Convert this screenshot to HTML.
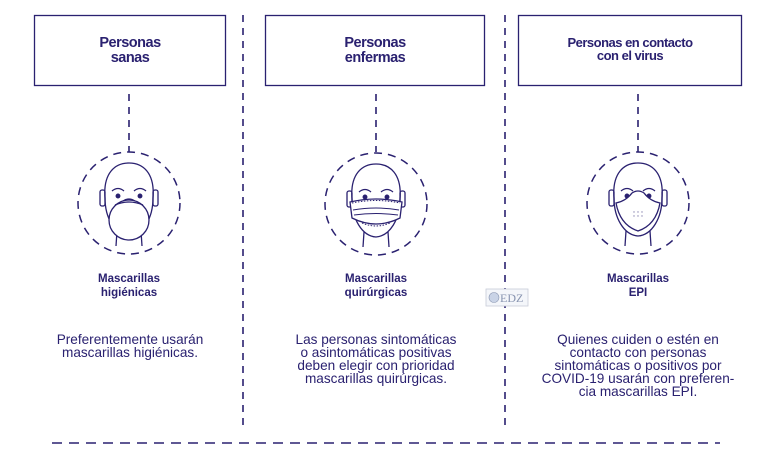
<!DOCTYPE html>
<html><head><meta charset="utf-8"><style>
html,body{margin:0;padding:0;background:#fff}
svg{display:block}
text{font-family:"Liberation Sans",sans-serif;fill:#2a2170}
.b{font-weight:bold;font-size:11.5px}
.h{font-weight:bold;font-size:14.5px;letter-spacing:-0.5px}
.d{font-size:13.6px}
</style></head><body>
<svg width="768" height="452" viewBox="0 0 768 452" xmlns="http://www.w3.org/2000/svg">
<defs>
<g id="head" fill="none" stroke="#2a2170" stroke-width="1.3">
<path d="M-24,-5 C-26,-30 -14,-40 0,-40 C14,-40 26,-30 24,-5 C24,15 14,32 0,33 C-14,32 -24,15 -24,-5 Z"/>
<rect x="-29" y="-13" width="5" height="16" rx="2"/>
<rect x="24" y="-13" width="5" height="16" rx="2"/>
<path d="M-12,28 L-13,43 M12,28 L13,43"/>
<path d="M-17,-12 Q-11,-17 -5,-12 M5,-12 Q11,-17 17,-12"/>
<circle cx="-11" cy="-7" r="1.8" fill="#2a2170"/>
<circle cx="11" cy="-7" r="1.8" fill="#2a2170"/>
</g>
</defs>
<g fill="none" stroke="#2a2170">
<rect x="34.5" y="15.5" width="191" height="70" stroke-width="1.3"/>
<rect x="265.5" y="15.5" width="219" height="70" stroke-width="1.3"/>
<rect x="518.5" y="15.5" width="223" height="70" stroke-width="1.3"/>
<path d="M243,15 V425 M505,15 V425" stroke-width="1.6" stroke-dasharray="7,6"/>
<path d="M52,443 H720" stroke-width="1.6" stroke-dasharray="10,7"/>
<path d="M129,94 V152 M376,94 V152 M638,94 V152" stroke-width="1.6" stroke-dasharray="7,6"/>
<circle cx="129" cy="203" r="51" stroke-width="1.5" stroke-dasharray="8,6"/>
<circle cx="376" cy="204" r="51" stroke-width="1.5" stroke-dasharray="8,6"/>
<circle cx="638" cy="203" r="51" stroke-width="1.5" stroke-dasharray="8,6"/>
</g>
<g transform="translate(129,203)">
<use href="#head"/>
<path d="M-6,-2 Q0,-6 6,-2" fill="none" stroke="#2a2170" stroke-width="1.3"/>
<circle cx="0" cy="17" r="20" fill="#fff" stroke="#2a2170" stroke-width="1.3"/>
<path d="M-14,2 Q0,-4 14,2" fill="none" stroke="#2a2170" stroke-width="1.3"/>
</g>
<g transform="translate(376,204)">
<use href="#head"/>
<path d="M-26,-2 Q0,-8 26,-2 L24,14 Q0,26 -24,14 Z" fill="#fff" stroke="#2a2170" stroke-width="1.3"/>
<path d="M-24,-1 Q0,-6 24,-1" fill="none" stroke="#2a2170" stroke-width="1" stroke-dasharray="1.5,1.5"/>
<path d="M-23,6 Q0,2 23,6 M-22,11 Q0,8 22,11" fill="none" stroke="#2a2170" stroke-width="1"/>
<path d="M-14,19 Q0,25 14,19" fill="none" stroke="#2a2170" stroke-width="1" stroke-dasharray="1.5,1.5"/>
</g>
<g transform="translate(638,203)">
<use href="#head"/>
<path d="M-22,0 Q-12,-2 -6,-10 Q0,-14 6,-10 Q12,-2 22,0 Q18,22 0,28 Q-18,22 -22,0 Z" fill="#fff" stroke="#2a2170" stroke-width="1.3"/>
<g fill="#8a86b0"><circle cx="-4" cy="9" r=".7"/><circle cx="0" cy="9" r=".7"/><circle cx="4" cy="9" r=".7"/><circle cx="-4" cy="13" r=".7"/><circle cx="0" cy="13" r=".7"/><circle cx="4" cy="13" r=".7"/></g>
</g>
<g text-anchor="middle">
<text class="h" x="130" y="47">Personas</text>
<text class="h" x="130" y="62">sanas</text>
<text class="h" x="375" y="47">Personas</text>
<text class="h" x="375" y="62">enfermas</text>
<text class="h" x="630" y="47" style="font-size:13px">Personas en contacto</text>
<text class="h" x="630" y="60" style="font-size:13px">con el virus</text>
<text class="b" x="129" y="282">Mascarillas</text>
<text class="b" x="129" y="296">higiénicas</text>
<text class="b" x="376" y="282">Mascarillas</text>
<text class="b" x="376" y="296">quirúrgicas</text>
<text class="b" x="638" y="282">Mascarillas</text>
<text class="b" x="638" y="296">EPI</text>
<text class="d" x="130" y="344">Preferentemente usarán</text>
<text class="d" x="130" y="357">mascarillas higiénicas.</text>
<text class="d" x="376" y="344">Las personas sintomáticas</text>
<text class="d" x="376" y="357">o asintomáticas positivas</text>
<text class="d" x="376" y="370">deben elegir con prioridad</text>
<text class="d" x="376" y="383">mascarillas quirúrgicas.</text>
<text class="d" x="638" y="344">Quienes cuiden o estén en</text>
<text class="d" x="638" y="357">contacto con personas</text>
<text class="d" x="638" y="370">sintomáticas o positivos por</text>
<text class="d" x="638" y="383">COVID-19 usarán con preferen-</text>
<text class="d" x="638" y="396">cia mascarillas EPI.</text>
</g>
<rect x="486" y="289" width="42" height="17" fill="#f4f6fa" stroke="#c8ccd8" stroke-width="0.8"/>
<circle cx="494" cy="297.5" r="5" fill="#c9d3e6" stroke="#8894b0" stroke-width="0.6"/>
<text x="500" y="302" style="font-family:'Liberation Serif',serif;font-size:12px;fill:#8894b0">EDZ</text>
</svg>
</body></html>
